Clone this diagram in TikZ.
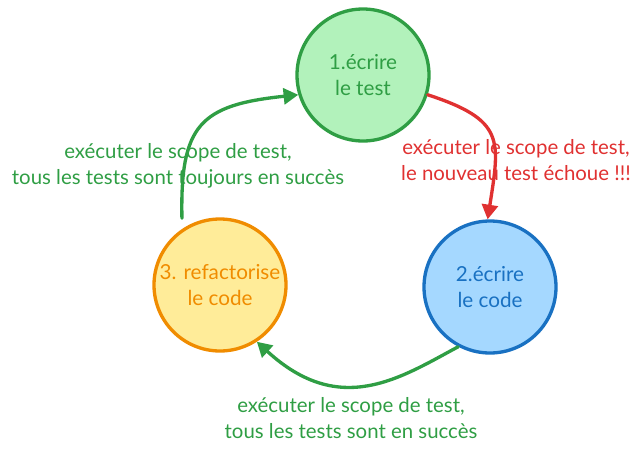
\documentclass[tikz,border=0pt]{standalone}
\usepackage{fontspec}
\setmainfont{Lato}
\usetikzlibrary{arrows.meta}
\definecolor{greenline}{HTML}{2F9E44}
\definecolor{greenfill}{HTML}{B2F2BB}
\definecolor{blueline}{HTML}{1971C2}
\definecolor{bluefill}{HTML}{A5D8FF}
\definecolor{orangeline}{HTML}{F08C00}
\definecolor{yellowfill}{HTML}{FFEC99}
\definecolor{redline}{HTML}{E03131}
\tikzset{
  stage/.style={circle,line width=2.5pt,minimum size=99pt,inner sep=0pt,align=center,font=\fontsize{15.5}{20}\selectfont},
  flow/.style={line width=2.5pt,line cap=round,-{Triangle[length=11pt,width=12pt]}},
  note/.style={align=center,font=\fontsize{15.3}{19.5}\selectfont}
}
\begin{document}
\begin{tikzpicture}[x=0.75pt,y=-0.75pt]
    \useasboundingbox (0,0) rectangle (640,454);
    \node[stage,draw=greenline,fill=greenfill,text=greenline] (ecrtest) at (363,75) {1.écrire\\ le test};
    \node[stage,draw=blueline,fill=bluefill,text=blueline] (ecrcode) at (490,287) {2.écrire\\ le code};
    \node[stage,draw=orangeline,fill=yellowfill,text=orangeline] (refacto) at (220,285) {3. refactorise\\ le code};
    % transitions
    \draw[flow,redline] (ecrtest.-17) .. controls (505,120) and (500,140) .. (ecrcode.92);
    \draw[flow,greenline] (ecrcode.-118) .. controls (400,378) and (340,418) .. (refacto.-57);
    \draw[flow,greenline,shorten <=8pt] (refacto.124) .. controls (180,125) and (200,105) .. (ecrtest.-163);
    % labels
    \node[note,text=redline] (lblrouge) at (516,160) {exécuter le scope de test,\\ le nouveau test échoue !!!};
    \node[note,text=greenline] (lblhaut) at (178,166) {exécuter le scope de test,\\ tous les tests sont toujours en succès};
    \node[note,text=greenline] (lblbas) at (351,418) {exécuter le scope de test,\\ tous les tests sont en succès};
\end{tikzpicture}
\end{document}
